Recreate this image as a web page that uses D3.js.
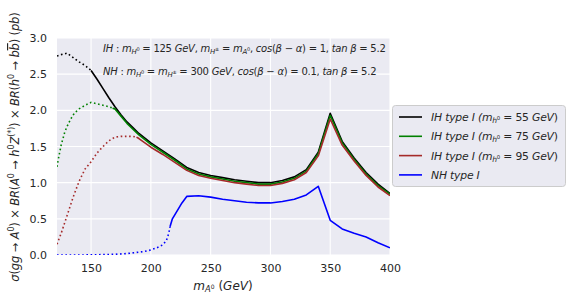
<!DOCTYPE html>
<html><head><meta charset="utf-8">
<script src="https://cdn.jsdelivr.net/npm/d3@7"></script>
<style>body{margin:0;background:#fff}svg{display:block}text{font-family:"DejaVu Sans",sans-serif;fill:#262626}</style>
</head><body><svg id="c" width="569" height="302"></svg>
<script>
// ---- data ----
const xTicks = [150, 200, 250, 300, 350, 400];
const yTicks = [0.0, 0.5, 1.0, 1.5, 2.0, 2.5, 3.0];

const blackDotM = [121.5, 125, 130, 135, 140, 145, 148, 150];
const blackDotV = [2.75, 2.77, 2.79, 2.73, 2.67, 2.62, 2.58, 2.55];
const blackM = [150, 155, 160, 165, 170, 175, 180, 185, 190, 200, 210, 220, 230, 240, 250, 260, 270, 280, 290, 300, 310, 320, 330, 340, 350, 360, 370, 380, 390, 400];
const blackV = [2.55, 2.43, 2.30, 2.17, 2.05, 1.94, 1.84, 1.76, 1.68, 1.55, 1.44, 1.33, 1.21, 1.14, 1.10, 1.07, 1.04, 1.02, 1.00, 1.00, 1.03, 1.08, 1.18, 1.42, 1.96, 1.57, 1.34, 1.14, 0.98, 0.85];

const greenDotM = [121.5, 123, 125, 128, 130, 133, 136, 140, 145, 150, 155, 160, 165, 168];
const greenDotV = [1.22, 1.36, 1.52, 1.70, 1.78, 1.88, 1.96, 2.02, 2.07, 2.11, 2.09, 2.07, 2.05, 2.03];
const greenM = [168, 170, 175, 180, 185, 190, 200, 210, 220, 230, 240, 250, 260, 270, 280, 290, 300, 310, 320, 330, 340, 350, 360, 370, 380, 390, 400];
const greenV = [2.03, 2.02, 1.92, 1.82, 1.74, 1.66, 1.53, 1.42, 1.31, 1.19, 1.12, 1.08, 1.05, 1.02, 1.00, 0.98, 0.98, 1.01, 1.06, 1.16, 1.40, 1.93, 1.55, 1.32, 1.12, 0.96, 0.84];

const redDotM = [121.5, 125, 130, 135, 140, 145, 150, 155, 160, 165, 170, 175, 180, 185, 188];
const redDotV = [0.15, 0.30, 0.55, 0.80, 1.02, 1.19, 1.29, 1.41, 1.50, 1.58, 1.63, 1.64, 1.64, 1.64, 1.63];
const redM = [188, 190, 200, 210, 220, 230, 240, 250, 260, 270, 280, 290, 300, 310, 320, 330, 340, 350, 360, 370, 380, 390, 400];
const redV = [1.63, 1.61, 1.49, 1.39, 1.28, 1.17, 1.10, 1.06, 1.03, 1.00, 0.98, 0.96, 0.96, 0.99, 1.04, 1.14, 1.37, 1.88, 1.52, 1.30, 1.10, 0.94, 0.82];

const blueDotM = [121.5, 140, 160, 170, 180, 190, 195, 200, 205, 210, 213, 215, 216];
const blueDotV = [0.0, 0.0, 0.005, 0.01, 0.02, 0.04, 0.05, 0.07, 0.10, 0.14, 0.20, 0.30, 0.39];
const blueM = [216, 218, 222, 226, 230, 240, 250, 260, 270, 280, 290, 300, 310, 320, 330, 340, 350, 360, 370, 380, 390, 400];
const blueV = [0.39, 0.50, 0.61, 0.72, 0.81, 0.82, 0.80, 0.77, 0.75, 0.73, 0.72, 0.72, 0.74, 0.77, 0.83, 0.95, 0.48, 0.36, 0.30, 0.25, 0.17, 0.10];

const legendLabels = [
  [["IH type I (","i"],["m","i"],["h","isub"],["0","subsup"],[" = 55 ",""],["GeV","i"],[")",""]],
  [["IH type I (","i"],["m","i"],["h","isub"],["0","subsup"],[" = 75 ",""],["GeV","i"],[")",""]],
  [["IH type I (","i"],["m","i"],["h","isub"],["0","subsup"],[" = 95 ",""],["GeV","i"],[")",""]],
  [["NH type I","i"]]
];
const colors = ["#000000", "#008000", "#a52a2a", "#0000ff"];

// ---- layout ----
const L = 57, R = 390, T = 38, B = 255;
const svg = d3.select("#c");
const x = d3.scaleLinear().domain([121.5, 400]).range([L, R]);
const y = d3.scaleLinear().domain([0, 3]).range([B, T]);

svg.append("rect").attr("x", L).attr("y", T).attr("width", R - L).attr("height", B - T).attr("fill", "#EAEAF2");
svg.append("defs").append("clipPath").attr("id", "clip").append("rect")
  .attr("x", L).attr("y", T).attr("width", R - L).attr("height", B - T);

// grid
const g = svg.append("g");
g.selectAll(".gx").data(xTicks).join("line").attr("x1", d => x(d)).attr("x2", d => x(d))
  .attr("y1", T).attr("y2", B).attr("stroke", "#fff").attr("stroke-width", 1.1);
g.selectAll(".gy").data(yTicks).join("line").attr("y1", d => y(d)).attr("y2", d => y(d))
  .attr("x1", L).attr("x2", R).attr("stroke", "#fff").attr("stroke-width", 1.1);

// axes (labels only)
const xAxis = d3.axisBottom(x).tickValues(xTicks).tickSize(0).tickPadding(9).tickFormat(d3.format("d"));
const yAxis = d3.axisLeft(y).tickValues(yTicks).tickSize(0).tickPadding(10).tickFormat(d3.format(".1f"));
const gx = svg.append("g").attr("transform", `translate(0,${B})`).call(xAxis);
const gy = svg.append("g").attr("transform", `translate(${L},0)`).call(yAxis);
[gx, gy].forEach(a => { a.select(".domain").remove(); a.selectAll("text").attr("font-size", 11).attr("fill", "#262626").attr("font-family", "DejaVu Sans"); });

// rich text helper
function rich(sel, parts, fs) {
  parts.forEach(([t, s]) => {
    const sp = sel.append("tspan").text(t);
    if (s.includes("i")) sp.attr("font-style", "italic");
    if (s.includes("o")) sp.attr("text-decoration", "overline");
    if (s === "sup" || s === "isup") { sp.attr("font-size", fs * 0.7).attr("baseline-shift", fs * 0.42); }
    else if (s === "sub" || s === "isub") { sp.attr("font-size", fs * 0.7).attr("baseline-shift", -fs * 0.2); }
    else if (s === "subsup") { sp.attr("font-size", fs * 0.5).attr("baseline-shift", fs * 0.1); }
    else sp.attr("font-size", fs);
  });
}

// lines
const line = d3.line().x(d => x(d[0])).y(d => y(d[1]));
const plot = svg.append("g").attr("clip-path", "url(#clip)");
const series = [
  [blackDotM, blackDotV, blackM, blackV, colors[0]],
  [greenDotM, greenDotV, greenM, greenV, colors[1]],
  [redDotM, redDotV, redM, redV, colors[2]],
  [blueDotM, blueDotV, blueM, blueV, colors[3]]
];
series.forEach(([dm, dv, sm, sv, c]) => {
  plot.append("path").attr("d", line(dm.map((m, i) => [m, dv[i]]))).attr("fill", "none")
    .attr("stroke", c).attr("stroke-width", 1.6).attr("stroke-dasharray", "1.6,2.6");
  plot.append("path").attr("d", line(sm.map((m, i) => [m, sv[i]]))).attr("fill", "none")
    .attr("stroke", c).attr("stroke-width", 1.6).attr("stroke-linejoin", "round");
});

// annotations
const fsA = 10;
rich(svg.append("text").attr("x", 103).attr("y", 52).attr("letter-spacing", -0.25),
  [["IH","i"],[" : ",""],["m","i"],["H","isub"],["0","subsup"],[" = 125 ",""],["GeV","i"],[", ",""],["m","i"],["H","isub"],["±","subsup"],[" = ",""],["m","i"],["A","isub"],["0","subsup"],[", ",""],["cos","i"],["(",""],["β","i"],[" − ",""],["α","i"],[") = 1, ",""],["tan β","i"],[" = 5.2",""]], fsA);
rich(svg.append("text").attr("x", 103).attr("y", 75).attr("letter-spacing", -0.25),
  [["NH","i"],[" : ",""],["m","i"],["H","isub"],["0","subsup"],[" = ",""],["m","i"],["H","isub"],["±","subsup"],[" = 300 ",""],["GeV","i"],[", ",""],["cos","i"],["(",""],["β","i"],[" − ",""],["α","i"],[") = 0.1, ",""],["tan β","i"],[" = 5.2",""]], fsA);

// x label
rich(svg.append("text").attr("x", 223).attr("y", 290).attr("text-anchor", "middle"),
  [["m","i"],["A","isub"],["0","subsup"],[" (",""],["GeV","i"],[")",""]], 12);

// y label
rich(svg.append("text").attr("transform", "translate(19,147) rotate(-90)").attr("text-anchor", "middle").attr("letter-spacing", -0.15),
  [["σ","i"],["(",""],["gg","i"],[" → ",""],["A","i"],["0","sup"],[") × ",""],["BR","i"],["(",""],["A","i"],["0","sup"],[" → ",""],["h","i"],["0","sup"],["Z","i"],["(*)","sup"],[") × ",""],["BR","i"],["(",""],["h","i"],["0","sup"],[" → ",""],["b","i"],["b","io"],[") (",""],["pb","i"],[")",""]], 11.5);

// legend
const lg = svg.append("g");
lg.append("rect").attr("x", 392.5).attr("y", 105.5).attr("width", 173).attr("height", 81).attr("rx", 3)
  .attr("fill", "#EAEAF2").attr("stroke", "#cccccc").attr("stroke-width", 1);
legendLabels.forEach((lab, i) => {
  const yy = 117 + i * 19.3;
  lg.append("line").attr("x1", 399).attr("x2", 422).attr("y1", yy).attr("y2", yy).attr("stroke", colors[i]).attr("stroke-width", 1.6);
  rich(lg.append("text").attr("x", 431).attr("y", yy + 4).attr("letter-spacing", -0.2), lab, 10.8);
});
</script></body></html>
